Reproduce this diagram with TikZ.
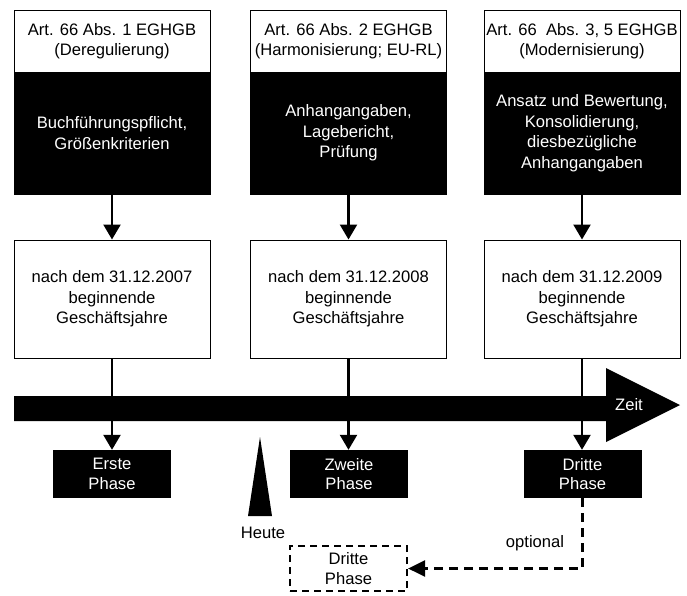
\documentclass[tikz,border=0pt]{standalone}
\usepackage{fontspec}
\setmainfont{Liberation Sans}
\usetikzlibrary{arrows.meta}
\begin{document}
\begin{tikzpicture}[x=1pt,y=-1pt,
  every node/.style={font=\fontsize{16.6}{20.5}\selectfont, align=center, inner sep=0pt},
  whitebox/.style={draw=black, line width=1pt, fill=white, minimum width=196pt, minimum height=62pt},
  blackbox/.style={draw=black, line width=1pt, fill=black, text=white, minimum width=196pt, minimum height=122pt},
  midbox/.style={draw=black, line width=1pt, fill=white, minimum width=196pt, minimum height=118pt},
  phasebox/.style={fill=black, text=white, minimum width=118pt, minimum height=48pt, font=\fontsize{16.6}{19.5}\selectfont},
  dashbox/.style={draw=black, line width=2.2pt, dash pattern=on 7pt off 5pt, minimum width=117pt, minimum height=45pt, font=\fontsize{16.6}{19.5}\selectfont},
  conn/.style={line width=2.4pt, -{Triangle[length=15pt,width=17pt]}},
  dconn/.style={line width=2.4pt, dash pattern=on 9pt off 6pt, -{Triangle[length=17pt,width=16pt]}},
]
\useasboundingbox (0,0) rectangle (687,595);

% top boxes
\node[whitebox] (t1) at (112,41) {Art. 66 Abs. 1 EGHGB\\(Deregulierung)};
\node[whitebox] (t2) at (348.5,41) {Art. 66 Abs. 2 EGHGB\\(Harmonisierung; EU-RL)};
\node[whitebox] (t3) at (582,41) {Art. 66\ \ Abs. 3, 5 EGHGB\\(Modernisierung)};

\node[blackbox] (b1) at (112,133) {Buchführungspflicht,\\Größenkriterien};
\node[blackbox] (b2) at (348.5,133) {Anhangangaben,\\Lagebericht,\\Prüfung};
\node[blackbox] (b3) at (582,133) {Ansatz und Bewertung,\\Konsolidierung,\\diesbezügliche\\Anhangangaben};

% middle boxes
\node[midbox] (m1) at (112,299) {nach dem 31.12.2007\\beginnende\\Geschäftsjahre};
\node[midbox] (m2) at (348.5,299) {nach dem 31.12.2008\\beginnende\\Geschäftsjahre};
\node[midbox] (m3) at (582,299) {nach dem 31.12.2009\\beginnende\\Geschäftsjahre};

% phase boxes
\node[phasebox] (p1) at (112,474) {Erste\\Phase};
\node[phasebox] (p2) at (349,474) {Zweite\\Phase};
\node[phasebox] (p3) at (582.5,474) {Dritte\\Phase};

\node[dashbox] (d) at (348.5,568.5) {Dritte\\Phase};

% arrows
\draw[conn] (b1.south) -- (m1.north);
\draw[conn] (b2.south) -- (m2.north);
\draw[conn] (b3.south) -- (m3.north);

% time arrow
\fill (14,396) -- (606,396) -- (606,368) -- (680,405) -- (606,442) -- (606,421) -- (14,421) -- cycle;
\node[text=white] (zeit) at (629,405) {Zeit};

\draw[conn] (m1.south) -- (p1.north);
\draw[conn] (m2.south) -- (m2.south |- p2.north);
\draw[conn] (m3.south) -- (m3.south |- p3.north);

% Heute
\fill (260,437) -- (272,516) -- (248,516) -- cycle;
\node (heute) at (263,533) {Heute};

% optional
\draw[dconn] (p3.south) |- (d.east);
\node (opt) at (535,543) {optional};
\end{tikzpicture}
\end{document}
